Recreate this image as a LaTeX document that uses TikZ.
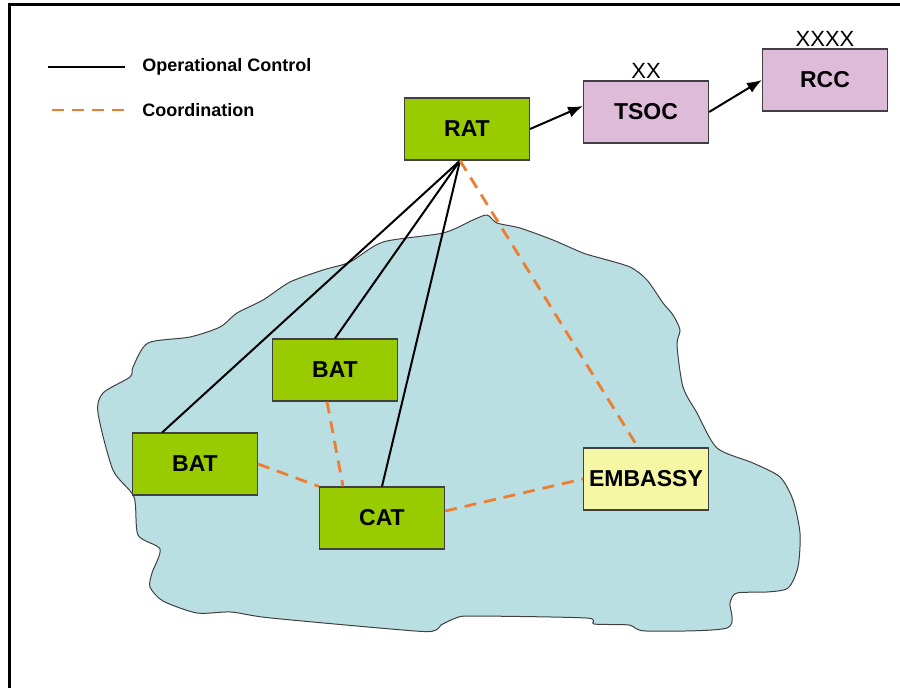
\documentclass[tikz,border=0pt]{standalone}
\usepackage{fontspec}
\setmainfont{Liberation Sans}
\usepackage{xcolor}
\usepackage{tikz}
\usetikzlibrary{arrows.meta,positioning,calc}
\definecolor{unitbg}{RGB}{153,204,0}
\definecolor{hqbg}{RGB}{223,187,218}
\definecolor{embbg}{RGB}{245,247,165}
\definecolor{landbg}{RGB}{186,223,227}
\definecolor{boxline}{RGB}{64,64,64}
\definecolor{coordline}{RGB}{237,125,49}
\tikzset{
  unitbox/.style={
    draw=boxline,
    fill=unitbg,
    line width=0.6pt,
    minimum width=62.5pt,
    minimum height=31pt,
    inner sep=0pt,
    font=\bfseries\fontsize{11.5}{13}\selectfont
  },
  hqbox/.style={unitbox, fill=hqbg},
  embbox/.style={unitbox, fill=embbg},
  echelon/.style={inner sep=1pt, font=\fontsize{11}{13}\selectfont},
  legendtext/.style={anchor=west, inner sep=0pt, font=\bfseries\fontsize{9}{11}\selectfont},
  control/.style={line width=1pt, black},
  coordination/.style={line width=1.4pt, coordline, dash pattern=on 6pt off 4pt},
  arrow/.style={-{Latex[length=2.6mm, width=2mm]}, line width=1pt}
}
\begin{document}
\begin{tikzpicture}[x=0.5pt, y=-0.5pt]
  \useasboundingbox (0,0) rectangle (900,687);
  \fill[white] (0,0) rectangle (900,687);
  % frame
  \draw[line width=1.3pt] (9.5,690) -- (9.5,4.5) -- (905,4.5);

  % country
  \draw[fill=landbg, draw=boxline, line width=0.5pt] plot[smooth cycle, tension=0.45] coordinates {
    (487,215) (497,223) (520,228) (553,240) (583,253) (600,258) (630,267)
    (647,280) (663,303) (673,315) (680,330) (677,345) (683,387) (697,413)
    (717,448) (753,463) (780,477) (793,500) (800,533) (798,567) (788,588)
    (767,592) (737,593) (730,603) (727,628) (646,631) (629,625) (594,624)
    (586,618) (473,616) (456,618) (441,625) (436,630) (415,631) (271,618)
    (231,612) (197,613) (163,601) (150,587) (152,573) (160,549) (138,535)
    (134,497) (113,470) (98,413) (103,393) (130,377) (133,367) (148,343)
    (190,337) (220,327) (237,313) (263,300) (290,282) (323,270) (350,262)
    (383,242) (443,233) (473,220)};

  % legend
  \coordinate (ctrlA) at (48,67);
  \coordinate (ctrlB) at (125,67);
  \coordinate (crdA) at (52,110);
  \coordinate (crdB) at (125,110);
  \draw[control] (ctrlA) -- (ctrlB);
  \draw[coordination] (crdA) -- (crdB);
  \node[legendtext] (ctrltxt) at (142,67) {Operational Control};
  \node[legendtext] (crdtxt) at (142,110) {Coordination};

  % units
  \node[unitbox] (rat) at (467,129) {RAT};
  \node[hqbox] (tsoc) at (646,112) {TSOC};
  \node[hqbox] (rcc) at (825,80) {RCC};
  \node[echelon, above=0pt of tsoc] (tsocech) {XX};
  \node[echelon, above=0pt of rcc] (rccech) {XXXX};
  \node[unitbox] (batA) at (335,370) {BAT};
  \node[unitbox] (batB) at (195,464) {BAT};
  \node[unitbox] (cat) at (382,518) {CAT};
  \node[embbox] (emb) at (646,479) {EMBASSY};

  \coordinate (hub) at ([xshift=-3.5pt]rat.south);

  \draw[arrow] (rat.east) -- ([yshift=3pt]tsoc.west);
  \draw[arrow] (tsoc.east) -- (rcc.west);
  \draw[control] (hub) -- ($(batB.north west)!0.24!(batB.north east)$);
  \draw[control] (hub) -- (batA.north);
  \draw[control] (hub) -- (cat.north);
  \draw[coordination] (hub) -- ([xshift=-4pt]emb.north);
  \draw[coordination] ([xshift=-4pt]batA.south) -- ([xshift=-19.5pt]cat.north);
  \draw[coordination] (batB.east) -- (cat.north west);
  \draw[coordination] ([yshift=3.5pt]cat.east) -- (emb.west);
\end{tikzpicture}
\end{document}
